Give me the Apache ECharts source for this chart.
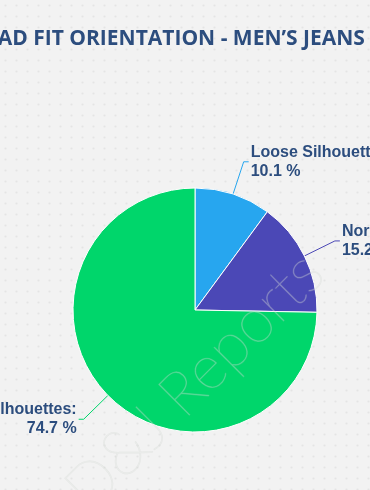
<!DOCTYPE html>
<html><head><meta charset="utf-8">
<script src="https://cdn.jsdelivr.net/npm/echarts@6/dist/echarts.min.js"></script>
<style>html,body{margin:0;padding:0;background:#f2f2f2;}#c{width:370px;height:490px;}</style>
</head><body><div id="c"></div>
<script>
const titleText = "BROAD FIT ORIENTATION - MEN’S JEANS SEGMENT";
const categories = ["Loose Silhouettes", "Normal Silhouettes", "Slim Silhouettes"];
const values = [10.1, 15.2, 74.7];
const colors = ["#27a6ef", "#4b48b6", "#00d66b"];

const pc = document.createElement('canvas');
pc.width = 11; pc.height = 11;
const pctx = pc.getContext('2d');
pctx.fillStyle = '#f2f2f2'; pctx.fillRect(0,0,11,11);
pctx.fillStyle = '#e4e4e4'; pctx.beginPath(); pctx.arc(5.5,5.5,1.1,0,Math.PI*2); pctx.fill();

const chart = echarts.init(document.getElementById('c'));
chart.setOption({
  backgroundColor: {image: pc, repeat: 'repeat'},
  title: {
    text: titleText, left: -52, top: 24,
    textStyle: {fontFamily: 'Open Sans', fontWeight: 'bold', fontSize: 21, color: '#2c4d7e'}
  },
  series: [{
    type: 'pie', center: [195, 310], radius: 122, startAngle: 90, clockwise: true,
    animation: false,
    itemStyle: {borderColor: '#ffffff', borderWidth: 1},
    label: {
      formatter: '{b}:\n{c} %', fontFamily: 'Liberation Sans', fontWeight: 'bold',
      fontSize: 16, lineHeight: 19, color: '#2c4d7e', overflow: 'none', width: 300,
      distanceToLabelLine: 2
    },
    labelLine: {length: 34, length2: 5, lineStyle: {width: 1}},
    data: categories.map((n, i) => ({name: n, value: values[i], itemStyle: {color: colors[i]}}))
  }],
  graphic: [{
    type: 'text', x: 335, y: 285, rotation: Math.PI/4, z: 100,
    style: {text: 'D&J Reports', textAlign: 'right', textVerticalAlign: 'bottom',
      font: '200 62px Lato', fill: 'rgba(255,255,255,0.22)', stroke: 'rgba(190,200,190,0.25)', lineWidth: 1}
  }]
});
</script></body></html>
